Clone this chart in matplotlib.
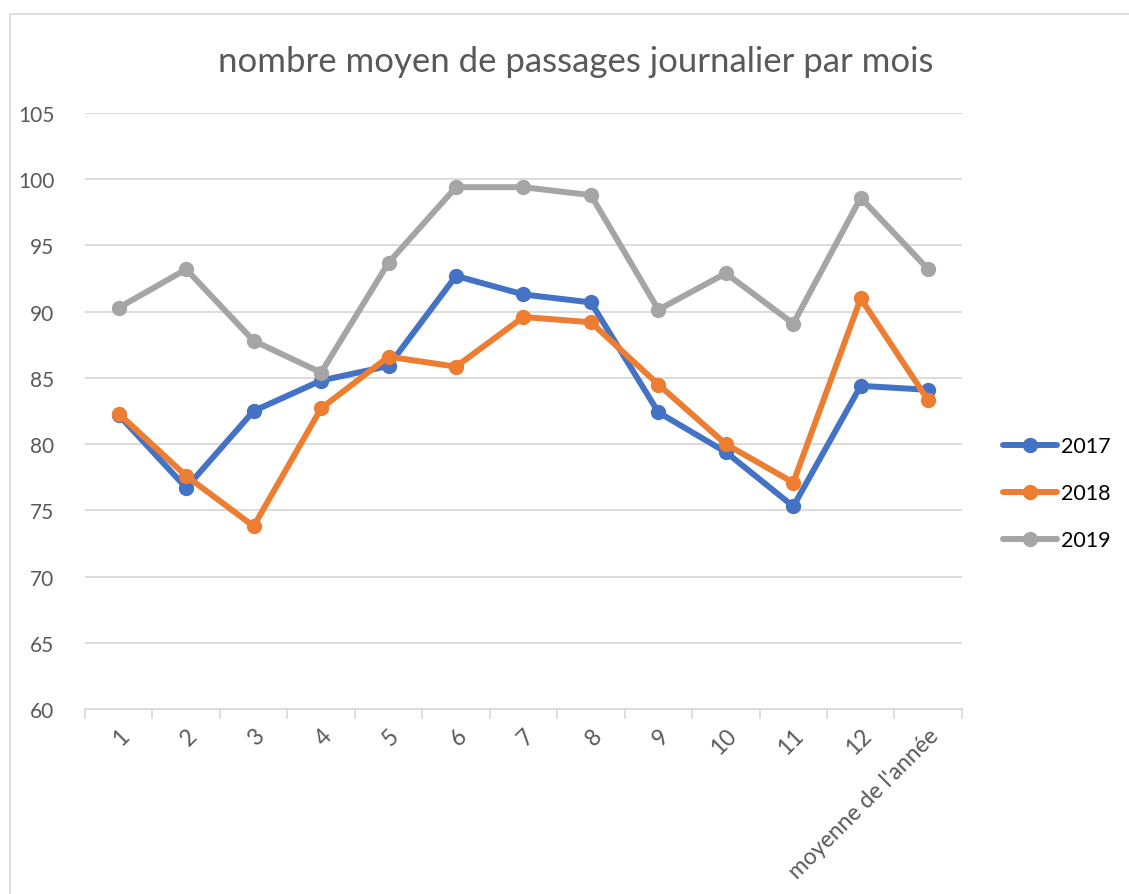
import matplotlib.pyplot as plt
from matplotlib.patches import Rectangle

# catégories et valeurs
categories = ['1', '2', '3', '4', '5', '6', '7', '8', '9', '10', '11', '12',
              "moyenne de l'année"]
y2017 = [82.2, 76.7, 82.5, 84.8, 85.9, 92.7, 91.3, 90.7, 82.4, 79.4, 75.3, 84.4, 84.1]
y2018 = [82.3, 77.6, 73.8, 82.7, 86.6, 85.85, 89.6, 89.2, 84.5, 80.0, 77.1, 91.0, 83.3]
y2019 = [90.3, 93.2, 87.8, 85.4, 93.7, 99.4, 99.4, 98.8, 90.15, 92.9, 89.1, 98.6, 93.2]

plt.rcParams['font.family'] = ['Lato', 'DejaVu Sans']

fig = plt.figure(figsize=(11.29, 8.95), dpi=100)
ax = fig.add_axes([0.0753, 0.2067, 0.7767, 0.6659])

# cadre de la zone de graphique
fig.patches.append(Rectangle((10 / 1129, -0.1), 1.2, 1 - 15 / 895 + 0.1,
                             transform=fig.transFigure, fill=False,
                             edgecolor='#D9D9D9', linewidth=1.2))

x = range(len(categories))
series = [('2017', y2017, '#4472C4'), ('2018', y2018, '#ED7D31'), ('2019', y2019, '#A5A5A5')]
for name, vals, col in series:
    ax.plot(x, vals, color=col, linewidth=4.3, marker='o', markersize=10,
            label=name, solid_capstyle='round')

ax.set_ylim(60, 105)
ax.set_yticks(range(60, 106, 5))
ax.set_xlim(-0.5, len(categories) - 0.5)
ax.set_xticks(list(x))
ax.set_xticklabels(categories, rotation=45, ha='right', va='top',
                   rotation_mode='anchor', fontsize=16.5, color='#595959')
ax.set_xticks([i - 0.5 for i in range(len(categories) + 1)], minor=True)
ax.tick_params(axis='x', which='major', length=0, pad=11)
ax.tick_params(axis='x', which='minor', length=7, color='#D9D9D9', width=1.2)
ax.tick_params(axis='y', length=0, pad=22, labelsize=15, labelcolor='#595959')

ax.grid(axis='y', color='#D9D9D9', linewidth=1.3)
ax.set_axisbelow(True)
for s in ['top', 'right', 'left']:
    ax.spines[s].set_visible(False)
ax.spines['bottom'].set_color('#D9D9D9')
ax.spines['bottom'].set_linewidth(1.3)

fig.text(0.51, 0.931, 'nombre moyen de passages journalier par mois',
         ha='center', va='center', fontsize=25, color='#595959')

leg = ax.legend(loc='center left', bbox_to_anchor=(1.025, 0.362), frameon=False,
                fontsize=15.5, handlelength=2.5, labelspacing=1.25, handletextpad=0.2)

plt.savefig('out.png', dpi=100)
